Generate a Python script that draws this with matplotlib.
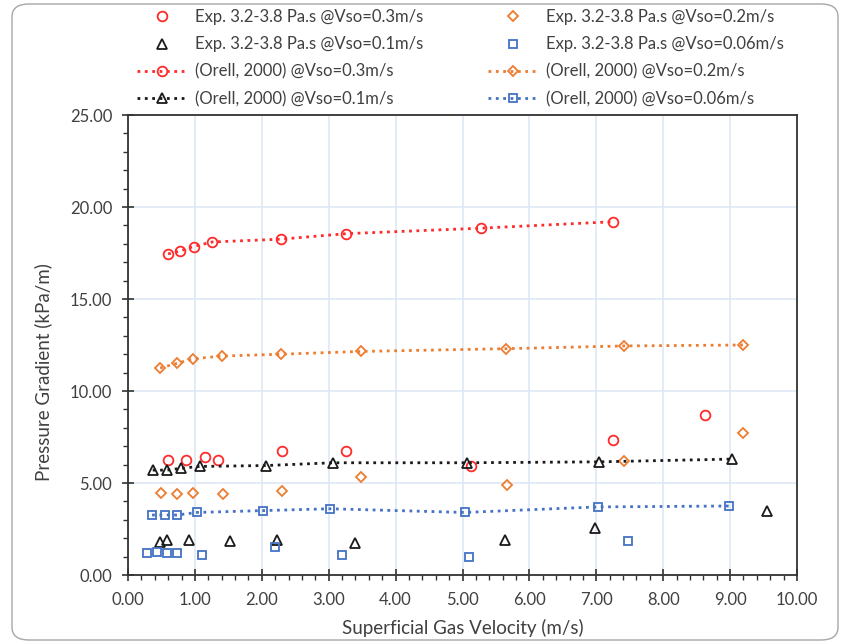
import numpy as np
import matplotlib.pyplot as plt
from matplotlib.patches import FancyBboxPatch
from matplotlib.ticker import MultipleLocator, FormatStrFormatter

plt.rcParams['font.family'] = ['Lato', 'DejaVu Sans']

# %% Experimental data, 3.2-3.8 Pa.s
exp_03_x = [0.60, 0.86, 1.15, 1.35, 2.30, 3.26, 5.12, 7.25, 8.62]
exp_03_y = [6.25, 6.25, 6.40, 6.25, 6.75, 6.75, 5.95, 7.35, 8.70]

exp_02_x = [0.49, 0.73, 0.97, 1.42, 2.30, 3.48, 5.66, 7.42, 9.20]
exp_02_y = [4.47, 4.40, 4.47, 4.40, 4.57, 5.30, 4.90, 6.20, 7.70]

exp_01_x = [0.48, 0.58, 0.91, 1.53, 2.23, 3.39, 5.64, 6.98, 9.55]
exp_01_y = [1.80, 1.90, 1.90, 1.85, 1.90, 1.75, 1.90, 2.55, 3.50]

exp_006_x = [0.28, 0.43, 0.58, 0.73, 1.10, 2.20, 3.20, 5.10, 7.47]
exp_006_y = [1.20, 1.25, 1.20, 1.20, 1.10, 1.50, 1.10, 1.00, 1.85]

# %% Orell (2000) model
orl_03_x = [0.60, 0.77, 0.98, 1.26, 2.28, 3.26, 5.28, 7.25]
orl_03_y = [17.45, 17.60, 17.85, 18.10, 18.25, 18.55, 18.85, 19.20]

orl_02_x = [0.48, 0.73, 0.97, 1.41, 2.29, 3.48, 5.65, 7.42, 9.20]
orl_02_y = [11.25, 11.50, 11.75, 11.90, 12.00, 12.15, 12.30, 12.45, 12.50]

orl_01_x = [0.37, 0.58, 0.79, 1.07, 2.07, 3.07, 5.06, 7.04, 9.03]
orl_01_y = [5.70, 5.70, 5.80, 5.90, 5.95, 6.10, 6.10, 6.15, 6.30]

orl_006_x = [0.36, 0.56, 0.73, 1.03, 2.02, 3.02, 5.03, 7.02, 8.99]
orl_006_y = [3.26, 3.26, 3.26, 3.40, 3.50, 3.60, 3.40, 3.70, 3.75]

red = '#FF2A2A'
orange = '#ED7D31'
black = '#1A1A1A'
blue = '#4472C4'
txt = '#404040'

W, H = 842, 644
fig = plt.figure(figsize=(W / 100, H / 100), dpi=100)
ax = fig.add_axes([128 / W, 1 - 575 / H, (797 - 128) / W, (575 - 115) / H])

# outer rounded frame
frame = FancyBboxPatch((12 / W, 4 / H), 826 / W, 636 / H,
                       boxstyle='round,pad=0,rounding_size=0.02',
                       transform=fig.transFigure, fill=False, edgecolor='#A6A6A6', lw=1.0)
fig.patches.append(frame)

ms = 7
h1, = ax.plot(exp_03_x, exp_03_y, 'o', mfc='none', mec=red, mew=1.3, ms=ms,
              label='Exp. 3.2-3.8 Pa.s @Vso=0.3m/s')
h2, = ax.plot(exp_02_x, exp_02_y, 'D', mfc='none', mec=orange, mew=1.3, ms=ms - 1.8,
              label='Exp. 3.2-3.8 Pa.s @Vso=0.2m/s')
h3, = ax.plot(exp_01_x, exp_01_y, '^', mfc='none', mec=black, mew=1.3, ms=ms,
              label='Exp. 3.2-3.8 Pa.s @Vso=0.1m/s')
h4, = ax.plot(exp_006_x, exp_006_y, 's', mfc='none', mec=blue, mew=1.3, ms=ms - 0.8,
              label='Exp. 3.2-3.8 Pa.s @Vso=0.06m/s')

h5, = ax.plot(orl_03_x, orl_03_y, ':', color=red, lw=2, marker='o', mfc='none', mec=red,
              mew=1.3, ms=ms, label='(Orell, 2000) @Vso=0.3m/s')
h6, = ax.plot(orl_02_x, orl_02_y, ':', color=orange, lw=2, marker='D', mfc='none', mec=orange,
              mew=1.3, ms=ms - 1.8, label='(Orell, 2000) @Vso=0.2m/s')
h7, = ax.plot(orl_01_x, orl_01_y, ':', color=black, lw=2, marker='^', mfc='none', mec=black,
              mew=1.3, ms=ms, label='(Orell, 2000) @Vso=0.1m/s')
h8, = ax.plot(orl_006_x, orl_006_y, ':', color=blue, lw=2, marker='s', mfc='none', mec=blue,
              mew=1.3, ms=ms - 0.8, label='(Orell, 2000) @Vso=0.06m/s')

ax.set_xlim(0, 10)
ax.set_ylim(0, 25)
ax.xaxis.set_major_locator(MultipleLocator(1))
ax.xaxis.set_minor_locator(MultipleLocator(0.2))
ax.yaxis.set_major_locator(MultipleLocator(5))
ax.yaxis.set_minor_locator(MultipleLocator(1))
ax.xaxis.set_major_formatter(FormatStrFormatter('%.2f'))
ax.yaxis.set_major_formatter(FormatStrFormatter('%.2f'))
ax.grid(True, which='major', color='#DDE8F5', lw=1.2)
ax.set_axisbelow(True)
for s in ax.spines.values():
    s.set_color('#333333')
    s.set_linewidth(1.3)
ax.tick_params(which='major', direction='inout', length=8.6, width=1.2, color='#333333',
               labelsize=12, labelcolor=txt)
ax.tick_params(axis='x', which='major', pad=8)
ax.tick_params(axis='y', which='major', pad=7)
ax.tick_params(which='minor', direction='out', length=3.8, width=1.0, color='#333333')
ax.set_xlabel('Superficial Gas Velocity (m/s)', fontsize=13.5, color=txt)
ax.set_ylabel('Pressure Gradient (kPa/m)', fontsize=13.5, color=txt)
ax.xaxis.set_label_coords(0.5, (575 - 619) / 460)
ax.yaxis.set_label_coords((52 - 128) / 669, (575 - 372) / 460)

# legend: two columns placed separately
leg_kw = dict(loc='upper left', frameon=False, fontsize=12, handlelength=3.0,
              handletextpad=0.5, labelspacing=0.68, borderpad=0, borderaxespad=0,
              labelcolor=txt, numpoints=1)
leg1 = fig.legend(handles=[h1, h3, h5, h7], bbox_to_anchor=(137 / W, 1 - 9 / H), **leg_kw)
leg2 = fig.legend(handles=[h2, h4, h6, h8], bbox_to_anchor=(488 / W, 1 - 9 / H), **leg_kw)

fig.savefig('out.png', dpi=100)
